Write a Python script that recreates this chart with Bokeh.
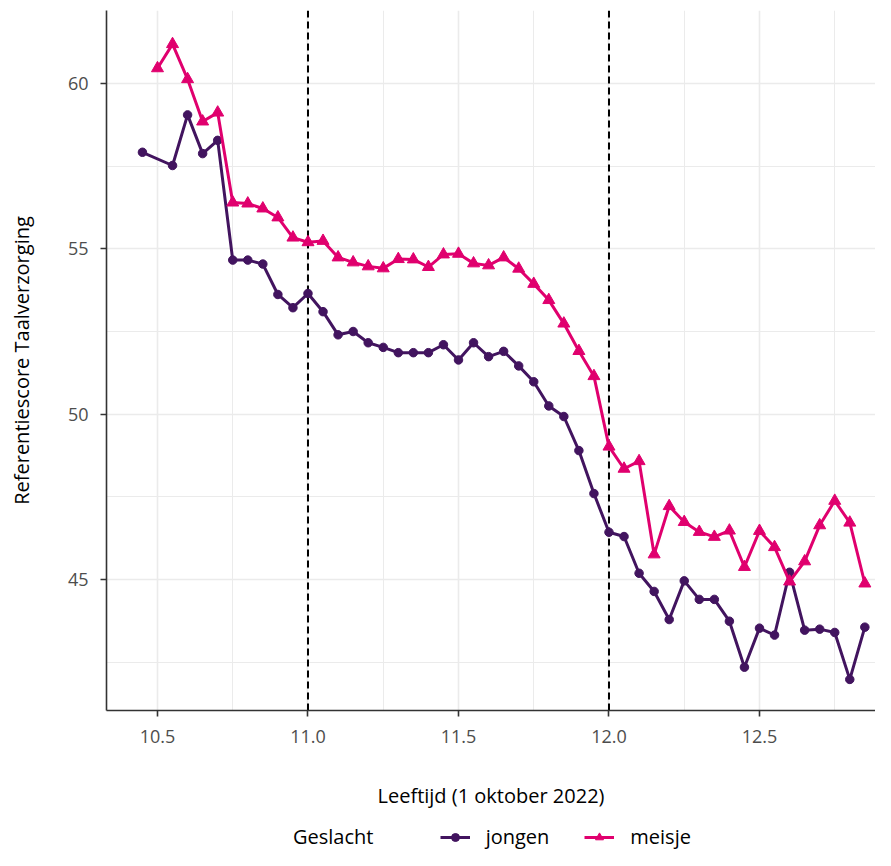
from bokeh.plotting import figure
from bokeh.layouts import column
from bokeh.models import (Range1d, FixedTicker, Legend, LegendItem, Span,
                          ColumnDataSource, CustomJSTickFormatter)
from bokeh.embed import file_html
from bokeh.resources import INLINE

# ---- data ----
age_jongen = [10.45, 10.55, 10.60, 10.65, 10.70, 10.75, 10.80, 10.85, 10.90, 10.95,
              11.00, 11.05, 11.10, 11.15, 11.20, 11.25, 11.30, 11.35, 11.40, 11.45,
              11.50, 11.55, 11.60, 11.65, 11.70, 11.75, 11.80, 11.85, 11.90, 11.95,
              12.00, 12.05, 12.10, 12.15, 12.20, 12.25, 12.30, 12.35, 12.40, 12.45,
              12.50, 12.55, 12.60, 12.65, 12.70, 12.75, 12.80, 12.85]
score_jongen = [57.92, 57.52, 59.05, 57.88, 58.28, 54.66, 54.66, 54.54, 53.62, 53.22,
                53.65, 53.10, 52.40, 52.50, 52.16, 52.02, 51.86, 51.86, 51.86, 52.10,
                51.64, 52.16, 51.74, 51.90, 51.46, 50.98, 50.25, 49.93, 48.90, 47.60,
                46.43, 46.30, 45.19, 44.64, 43.79, 44.96, 44.40, 44.40, 43.74, 42.35,
                43.53, 43.32, 45.22, 43.47, 43.50, 43.40, 41.98, 43.56]

age_meisje = [10.50, 10.55, 10.60, 10.65, 10.70, 10.75, 10.80, 10.85, 10.90, 10.95,
              11.00, 11.05, 11.10, 11.15, 11.20, 11.25, 11.30, 11.35, 11.40, 11.45,
              11.50, 11.55, 11.60, 11.65, 11.70, 11.75, 11.80, 11.85, 11.90, 11.95,
              12.00, 12.05, 12.10, 12.15, 12.20, 12.25, 12.30, 12.35, 12.40, 12.45,
              12.50, 12.55, 12.60, 12.65, 12.70, 12.75, 12.80, 12.85]
score_meisje = [60.46, 61.19, 60.13, 58.85, 59.12, 56.40, 56.37, 56.22, 55.95, 55.34,
                55.20, 55.24, 54.74, 54.59, 54.47, 54.41, 54.69, 54.68, 54.45, 54.83,
                54.85, 54.56, 54.50, 54.74, 54.40, 53.94, 53.45, 52.74, 51.91, 51.15,
                49.02, 48.35, 48.58, 45.76, 47.22, 46.74, 46.44, 46.29, 46.48, 45.38,
                46.47, 45.98, 44.94, 45.55, 46.64, 47.38, 46.72, 44.88]

reference_ages = [11.0, 12.0]
x_ticks = [10.5, 11.0, 11.5, 12.0, 12.5]
x_minor = [10.25, 10.75, 11.25, 11.75, 12.25, 12.75]
y_ticks = [45, 50, 55, 60]
y_minor = [42.5, 47.5, 52.5, 57.5]

groups = ["jongen", "meisje"]
legend_title = "Geslacht"
colors = ["#42145F", "#E0006E"]

FONT = "Open Sans"
NBSP = "\u00a0"

# ---------------- main chart ----------------
p = figure(width=875, height=812, output_backend="svg", toolbar_location=None,
           x_range=Range1d(10.3306, 12.8854), y_range=Range1d(41.04, 62.207),
           min_border_left=106, min_border_right=0, min_border_top=10,
           min_border_bottom=102)
p.outline_line_color = None
p.background_fill_color = "white"
p.border_fill_color = "white"

p.xaxis.ticker = FixedTicker(ticks=x_ticks, minor_ticks=x_minor)
p.yaxis.ticker = FixedTicker(ticks=y_ticks, minor_ticks=y_minor)
for g in (p.xgrid, p.ygrid):
    g.grid_line_color = "#EBEBEB"
    g.grid_line_width = 1.6
    g.minor_grid_line_color = "#EBEBEB"
    g.minor_grid_line_width = 1.0

for ref in reference_ages:
    s = Span(location=ref, dimension="height", line_color="black",
             line_dash="7 4", line_width=2, level="underlay")
    p.add_layout(s)

for ax in (p.xaxis[0], p.yaxis[0]):
    ax.axis_line_color = "#333333"
    ax.axis_line_width = 1.6
    ax.major_tick_line_color = "#333333"
    ax.major_tick_line_width = 1.6
    ax.major_tick_out = 6
    ax.major_tick_in = 0
    ax.minor_tick_line_color = None
    ax.major_label_text_font = FONT
    ax.major_label_text_font_size = "18px"
    ax.major_label_text_color = "#4D4D4D"
    ax.axis_label_text_font = FONT
    ax.axis_label_text_font_size = "20px"
    ax.axis_label_text_font_style = "normal"
    ax.axis_label_text_color = "black"

p.xaxis.formatter = CustomJSTickFormatter(code="return tick.toFixed(1);")
p.xaxis.axis_label = "Leeftijd (1 oktober 2022)"
p.xaxis.major_label_standoff = 13
p.xaxis.axis_label_standoff = 36
p.yaxis.axis_label = "Referentiescore Taalverzorging"
p.yaxis.major_label_standoff = 12
p.yaxis.axis_label_standoff = 30

src_j = ColumnDataSource(dict(x=age_jongen, y=score_jongen))
src_m = ColumnDataSource(dict(x=age_meisje, y=score_meisje))

p.line("x", "y", source=src_j, line_color=colors[0], line_width=3)
p.scatter("x", "y", source=src_j, marker="circle", size=8.5,
          fill_color=colors[0], line_color=colors[0])
p.line("x", "y", source=src_m, line_color=colors[1], line_width=3)
p.scatter("x", "y", source=src_m, marker="triangle", size=12,
          fill_color=colors[1], line_color=colors[1])

# ---------------- legend strip ----------------
# (its ranges lie far from the data, so its renderers only supply legend keys)
leg = figure(width=875, height=38, output_backend="svg", toolbar_location=None,
             x_range=Range1d(0, 1), y_range=Range1d(0, 1),
             x_axis_type=None, y_axis_type=None,
             min_border_left=0, min_border_right=0, min_border_top=0,
             min_border_bottom=0)
leg.outline_line_color = None
leg.background_fill_color = "white"
leg.border_fill_color = "white"

title_holder = leg.scatter("x", "y", source=src_j, alpha=0)
kj_l = leg.line("x", "y", source=src_j, line_color=colors[0], line_width=3)
kj_s = leg.scatter("x", "y", source=src_j, marker="circle", size=7,
                   fill_color=colors[0], line_color=colors[0])
km_l = leg.line("x", "y", source=src_m, line_color=colors[1], line_width=3)
km_s = leg.scatter("x", "y", source=src_m, marker="triangle", size=9,
                   fill_color=colors[1], line_color=colors[1])

legend = Legend(items=[LegendItem(label=legend_title + NBSP * 6, renderers=[title_holder]),
                       LegendItem(label=groups[0], renderers=[kj_l, kj_s]),
                       LegendItem(label=groups[1], renderers=[km_l, km_s])],
                orientation="horizontal", location=(141, 0))
legend.label_text_font = FONT
legend.label_text_font_size = "20px"
legend.label_text_color = "black"
legend.glyph_width = 30
legend.glyph_height = 20
legend.label_height = 20
legend.label_standoff = 16
legend.spacing = 35
legend.padding = 0
legend.margin = 0
legend.border_line_color = None
legend.background_fill_alpha = 0
leg.add_layout(legend, "center")

layout = column(p, leg, spacing=0)
open("out.html", "w").write(file_html(layout, INLINE))
